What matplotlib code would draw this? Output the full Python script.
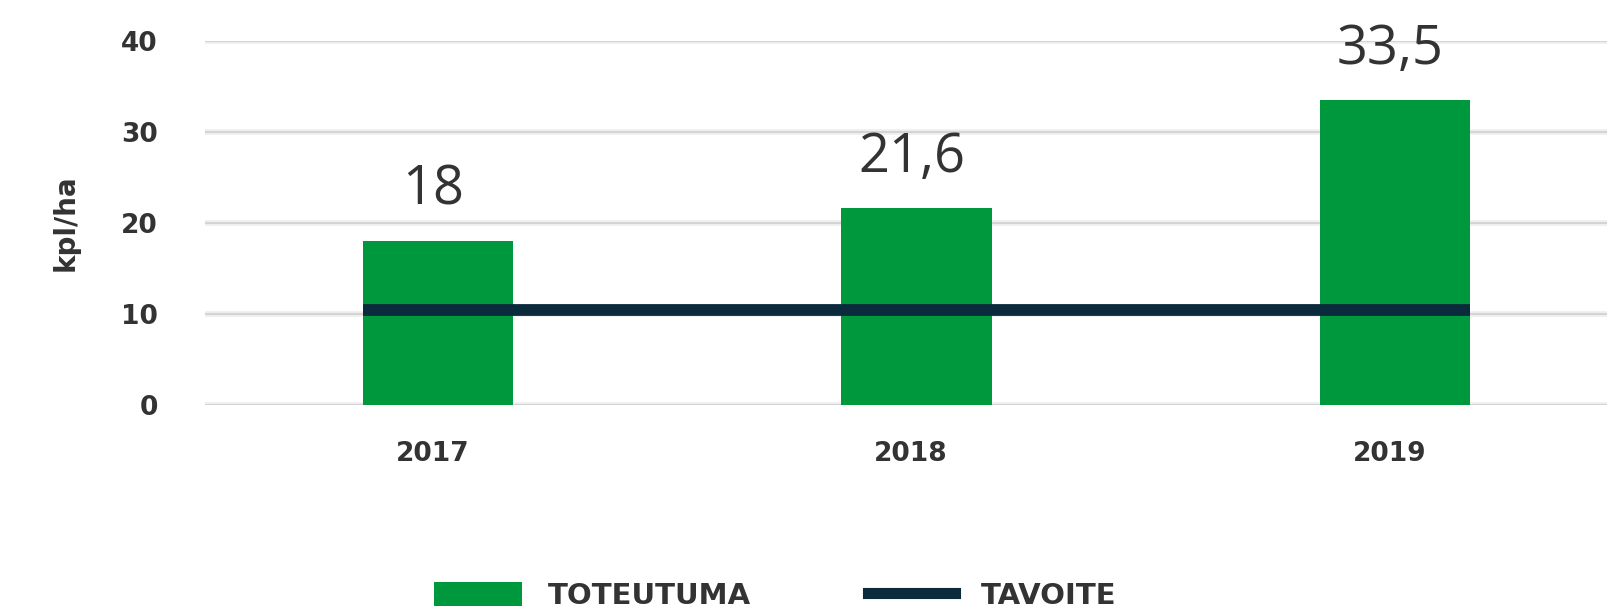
import matplotlib
matplotlib.use("Agg")
import matplotlib.pyplot as plt
from matplotlib.patches import Patch
from matplotlib.lines import Line2D
import numpy as np

years = ["2017", "2018", "2019"]
toteutuma = [18, 21.6, 33.5]
tavoite = [10.4, 10.4, 10.4]
value_labels = ["18", "21,6", "33,5"]
yticks = [0, 10, 20, 30, 40]

GREEN = "#00983c"
NAVY = "#0b2a3b"
TXT = "#333333"

fig = plt.figure(figsize=(16.19, 6.10), dpi=100)
ax = fig.add_axes([205/1619, 1-405/610, (1607-205)/1619, (405-41)/610])

x = np.arange(len(years))
w = 0.315
ax.set_xlim(-0.487, 2.443)
ax.set_ylim(0, 40)

for t in yticks:
    ax.axhline(t, color="#eeeeee", lw=4.0, zorder=0)
    ax.axhline(t, color="#d2d2d2", lw=1.3, zorder=0.5)

ax.bar(x, toteutuma, width=w, color=GREEN, zorder=2)
ax.plot([x[0]-w/2, x[1], x[-1]+w/2], tavoite, color=NAVY, lw=8.5, zorder=3,
        solid_capstyle="butt")

for xi, v, lab in zip(x, toteutuma, value_labels):
    ax.annotate(lab, (xi - 0.01, v), xytext=(0, 17), textcoords="offset points",
                ha="center", va="bottom", fontsize=39, color=TXT,
                family="Open Sans", clip_on=False)

for s in ax.spines.values():
    s.set_visible(False)
ax.set_yticks(yticks)
ax.set_yticklabels([str(t) for t in yticks], fontsize=19, fontweight="bold",
                   color=TXT, family="DejaVu Sans")
ax.set_xticks(x - 0.012)
ax.set_xticklabels(years, fontsize=19, fontweight="bold", color=TXT,
                   family="DejaVu Sans")
ax.tick_params(axis="y", length=0, pad=34)
ax.tick_params(axis="x", length=0, pad=26)
ax.set_ylabel("kpl/ha", fontsize=20, fontweight="bold", color=TXT,
              family="DejaVu Sans", labelpad=30)

handles = [Patch(facecolor=GREEN, edgecolor="none"),
           Line2D([0], [0], color=NAVY, lw=8)]
fig.legend(handles, ["TOTEUTUMA", "TAVOITE"], loc="center",
           bbox_to_anchor=(0.479, 1-596/610), ncol=2, frameon=False,
           prop={"family": "DejaVu Sans", "weight": "bold", "size": 21},
           labelcolor=TXT, handlelength=3.0, handleheight=0.85,
           handletextpad=0.9, columnspacing=4.0)

fig.savefig("out.png", dpi=100, facecolor="white")
